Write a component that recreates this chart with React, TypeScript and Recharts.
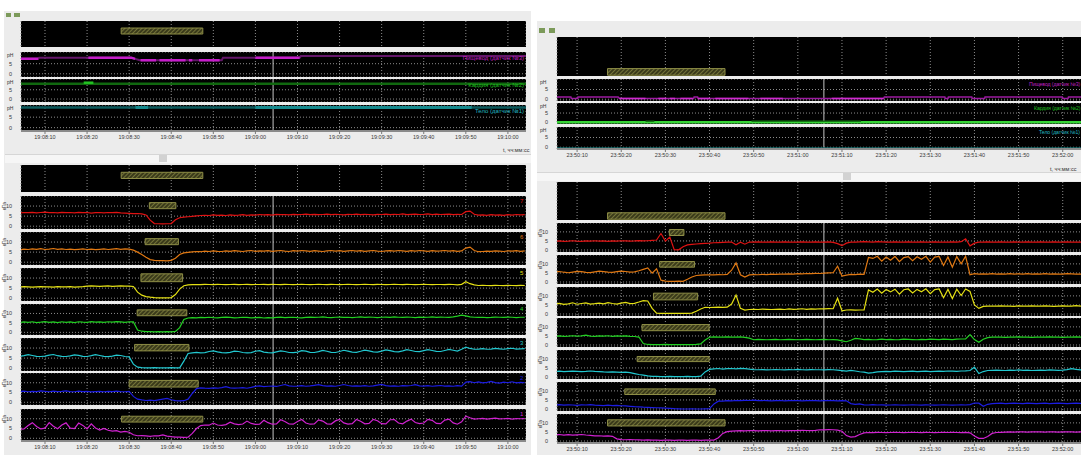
import React from 'react';
import { LineChart, Line, XAxis, YAxis, CartesianGrid, ReferenceArea, ReferenceLine } from 'recharts';

// time axis, seconds after the minute in the first label
const timeTicks = [10, 20, 30, 40, 50, 60, 70, 80, 90, 100, 110, 120];
const leftTimeLabels = ['19:08:10', '19:08:20', '19:08:30', '19:08:40', '19:08:50', '19:09:00', '19:09:10', '19:09:20', '19:09:30', '19:09:40', '19:09:50', '19:10:00'];
const rightTimeLabels = ['23:50:10', '23:50:20', '23:50:30', '23:50:40', '23:50:50', '23:51:00', '23:51:10', '23:51:20', '23:51:30', '23:51:40', '23:51:50', '23:52:00'];

const phNames = ['Пищевод (датчик №3)', 'Кардия (датчик №2)', 'Тело (датчик №1)'];
const channelNames = ['7', '6', '5', '4', '3', '2', '1'];
const channelColors = ['#e01212', '#e07812', '#e4e014', '#22d022', '#22c8d0', '#1c1ce0', '#d022d0'];

const leftCursor = 64.2;
const rightCursor = 65.9;

// left recording, one sample per second from t = 4
const leftStart = 4;
const leftP7 = [6.6, 6.8, 6.7, 6.9, 6.6, 6.8, 7.0, 6.7, 6.8, 6.6,
  6.9, 6.7, 6.8, 6.6, 6.9, 6.7, 6.8, 6.5, 6.7, 6.8,
  6.6, 6.8, 6.7, 6.9, 6.6, 6.5, 6.4, 6.2, 6.3, 6.1,
  5.6, 3.0, 1.3, 1.2, 1.1, 1.2, 1.3, 3.2, 4.2, 4.5,
  4.7, 4.9, 5.1, 5.3, 5.4, 5.3, 5.6, 5.4, 5.5, 5.3,
  5.6, 5.4, 5.5, 5.7, 5.4, 5.6, 5.5, 5.8, 5.6, 5.7,
  5.5, 5.9, 5.7, 5.8, 5.6, 5.9, 5.7, 5.8, 6.0, 5.7,
  5.9, 5.7, 5.8, 6.0, 5.7, 5.9, 5.8, 5.6, 5.9, 5.8,
  6.0, 5.7, 5.9, 5.8, 5.6, 5.9, 5.8, 6.0, 5.7, 5.9,
  5.8, 6.1, 5.7, 5.9, 6.0, 5.8, 5.9, 6.1, 5.7, 6.0,
  5.8, 5.9, 6.0, 5.7, 5.9, 5.8, 7.2, 7.5, 5.9, 5.5,
  5.6, 5.4, 5.7, 5.5, 5.6, 5.4, 5.7, 5.5, 5.8, 5.6,
  5.7];
const leftP6 = [6.2, 6.5, 6.3, 6.6, 6.4, 6.7, 6.3, 6.5, 6.8, 6.4,
  6.6, 6.3, 6.5, 6.2, 6.4, 6.6, 6.3, 6.5, 6.2, 6.4,
  6.6, 6.3, 6.5, 6.7, 6.4, 6.6, 6.5, 6.0, 5.0, 3.8,
  2.4, 1.3, 0.9, 0.8, 0.8, 0.7, 0.9, 2.0, 3.8, 4.6,
  4.9, 5.1, 5.3, 5.2, 5.5, 5.3, 5.6, 5.4, 5.3, 5.6,
  5.4, 5.7, 5.5, 5.3, 5.6, 5.8, 5.4, 5.6, 5.5, 5.7,
  5.4, 5.6, 5.8, 5.5, 5.3, 5.7, 5.5, 5.8, 5.6, 5.4,
  5.7, 5.5, 5.3, 5.6, 5.8, 5.5, 5.7, 5.4, 5.6, 5.8,
  5.5, 5.7, 5.4, 5.6, 5.8, 5.5, 5.3, 5.6, 5.7, 5.5,
  5.8, 5.6, 5.4, 5.7, 5.5, 5.8, 5.6, 5.4, 5.7, 5.5,
  5.6, 5.8, 5.5, 5.7, 5.4, 5.6, 7.0, 7.5, 5.8, 5.2,
  5.3, 5.5, 5.4, 5.6, 5.5, 5.3, 5.6, 5.5, 5.7, 5.4,
  5.6];
const leftP5 = [5.6, 5.7, 5.6, 5.5, 5.6, 5.7, 5.6, 5.6, 5.5, 5.7,
  5.6, 5.6, 5.7, 5.5, 5.6, 5.7, 6.0, 6.1, 6.0, 5.9,
  6.0, 6.1, 5.9, 6.0, 6.1, 6.0, 6.0, 5.8, 3.0, 1.5,
  0.8, 0.5, 0.3, 0.2, 0.2, 0.2, 0.3, 1.8, 4.5, 6.2,
  6.6, 6.7, 6.8, 6.7, 6.9, 6.8, 6.7, 6.9, 6.8, 6.7,
  6.8, 6.9, 6.7, 6.8, 6.9, 6.7, 6.8, 6.8, 6.9, 6.7,
  6.9, 6.8, 6.7, 6.9, 6.8, 6.7, 6.8, 6.9, 6.8, 6.7,
  6.8, 6.9, 6.8, 6.7, 6.9, 6.8, 6.7, 6.8, 6.9, 6.8,
  6.7, 6.8, 6.9, 6.8, 6.7, 6.9, 6.8, 6.7, 6.8, 6.9,
  6.8, 6.7, 6.9, 6.8, 6.7, 6.8, 6.9, 6.8, 6.7, 6.8,
  6.8, 6.7, 6.9, 6.8, 6.6, 6.9, 8.2, 7.2, 6.6, 6.3,
  6.4, 6.3, 6.2, 6.4, 6.3, 6.2, 6.4, 6.3, 6.2, 6.4,
  6.3];
const leftP4 = [5.2, 5.5, 5.3, 5.6, 5.2, 5.4, 5.7, 5.3, 5.5, 5.2,
  5.6, 5.3, 5.5, 5.2, 5.6, 5.4, 5.3, 5.7, 5.4, 5.5,
  5.3, 5.6, 5.4, 5.7, 5.5, 5.3, 5.6, 5.5, 1.2, 0.6,
  0.4, 0.4, 0.3, 0.4, 0.3, 0.4, 0.3, 0.5, 2.5, 6.8,
  7.6, 7.8, 7.7, 7.9, 7.8, 8.0, 7.8, 7.7, 7.9, 8.1,
  7.9, 7.7, 7.8, 8.0, 7.9, 7.7, 7.8, 7.9, 7.6, 7.8,
  7.7, 7.9, 8.1, 7.8, 7.9, 8.0, 7.8, 7.7, 7.9, 8.1,
  7.9, 8.0, 8.2, 7.9, 7.8, 8.0, 8.1, 7.9, 8.0, 7.8,
  8.0, 8.2, 7.9, 8.1, 8.0, 7.8, 8.0, 8.1, 7.9, 8.2,
  8.0, 7.9, 8.1, 8.0, 7.8, 8.1, 7.9, 8.0, 8.2, 7.9,
  8.1, 8.0, 7.9, 8.2, 8.6, 9.1, 8.7, 8.2, 8.0, 7.9,
  8.0, 7.8, 7.9, 8.1, 8.0, 7.9, 8.1, 8.0, 7.8, 8.0,
  8.0];
const leftP3 = [5.9, 6.2, 6.7, 6.3, 5.9, 5.8, 6.0, 6.5, 6.8, 6.2,
  5.9, 5.8, 6.1, 6.6, 6.4, 5.9, 5.8, 6.2, 6.7, 6.3,
  5.9, 5.7, 6.0, 6.5, 6.3, 5.8, 5.6, 2.0, 0.5, 0.3,
  0.2, 0.2, 0.3, 0.2, 0.2, 0.2, 0.3, 0.2, 0.2, 3.5,
  7.3, 7.6, 7.9, 7.6, 7.7, 8.3, 8.6, 8.1, 7.7, 7.6,
  7.9, 8.5, 8.3, 7.8, 7.6, 7.7, 8.4, 8.7, 8.0, 7.7,
  7.6, 8.1, 8.6, 8.3, 7.8, 7.7, 8.0, 8.7, 8.5, 7.9,
  7.8, 8.2, 8.8, 8.4, 7.9, 7.8, 8.3, 8.9, 8.5, 8.0,
  7.9, 8.4, 9.0, 8.6, 8.1, 8.0, 8.5, 9.1, 8.7, 8.2,
  8.1, 8.6, 9.2, 8.8, 8.3, 8.2, 8.7, 9.2, 8.8, 8.4,
  8.3, 8.8, 9.3, 8.9, 8.5, 9.4, 10.4, 9.8, 9.4, 9.5,
  9.7, 9.4, 9.5, 9.8, 9.6, 9.4, 9.7, 9.9, 9.5, 9.6,
  9.7];
const leftP2 = [5.5, 5.7, 5.4, 5.6, 5.5, 5.8, 5.6, 5.4, 5.7, 5.5,
  5.6, 5.8, 5.5, 5.4, 5.7, 5.5, 5.6, 5.3, 5.5, 5.6,
  5.4, 5.6, 5.5, 5.7, 5.5, 5.4, 5.6, 3.0, 1.6, 1.2,
  0.9, 1.1, 0.8, 1.2, 1.6, 2.0, 1.3, 0.8, 0.7, 0.8,
  1.6, 4.5, 7.0, 7.4, 7.2, 7.1, 7.4, 7.2, 7.5, 8.0,
  7.4, 7.2, 7.3, 7.5, 7.2, 7.6, 8.1, 8.4, 8.0, 8.2,
  8.3, 8.1, 8.6, 9.1, 8.4, 8.2, 8.3, 8.5, 8.2, 8.4,
  8.7, 9.0, 8.5, 8.3, 8.4, 8.2, 8.6, 9.1, 8.6, 8.3,
  8.4, 8.3, 8.5, 8.2, 8.4, 8.8, 9.2, 8.5, 8.3, 8.4,
  8.2, 8.5, 8.4, 8.6, 9.0, 8.4, 8.3, 8.5, 8.2, 8.4,
  8.6, 8.3, 8.4, 8.2, 8.5, 8.3, 10.3, 10.6, 10.0, 10.4,
  9.9, 10.2, 10.7, 10.1, 9.8, 10.3, 10.0, 10.5, 9.9, 10.2,
  10.0];
const leftP1 = [4.7, 4.8, 6.5, 8.0, 6.0, 4.8, 5.2, 8.0, 6.2, 4.9,
  6.8, 7.9, 5.2, 5.0, 7.8, 6.6, 4.8, 7.4, 5.3, 4.2,
  5.0, 4.1, 3.7, 3.9, 3.2, 3.5, 3.1, 1.8, 1.3, 1.4,
  1.2, 1.0, 1.3, 1.2, 1.7, 1.1, 0.8, 0.6, 0.6, 0.5,
  0.6, 2.5, 5.0, 6.5, 6.8, 6.7, 7.8, 6.8, 6.6, 7.0,
  8.2, 7.4, 7.0, 7.3, 8.8, 7.6, 7.1, 7.2, 9.2, 8.0,
  7.2, 7.4, 9.5, 8.6, 7.3, 7.2, 8.6, 9.6, 7.8, 7.2,
  7.3, 9.4, 8.8, 7.4, 7.3, 8.9, 9.7, 7.9, 7.3, 7.5,
  9.6, 8.7, 7.4, 7.6, 9.7, 9.0, 7.5, 7.4, 9.5, 9.6,
  7.8, 7.4, 8.8, 9.8, 8.1, 7.5, 7.8, 9.7, 9.2, 7.6,
  7.5, 9.3, 9.8, 7.9, 7.2, 8.4, 11.3, 10.5, 9.8, 10.0,
  10.2, 9.8, 10.1, 10.3, 9.9, 10.0, 10.2, 9.8, 10.1, 10.0,
  10.1];

// right recording, one sample per second from t = 5
const rightStart = 5;
const rightP7 = [4.9, 5.0, 4.8, 4.9, 5.1, 4.9, 4.8, 5.0, 4.9, 5.1,
  4.9, 5.0, 4.8, 5.0, 4.9, 5.1, 5.0, 4.9, 5.0, 5.2,
  5.0, 5.1, 5.3, 5.5, 9.1, 4.9, 7.1, 0.2, 0.1, 1.8,
  2.8, 3.1, 3.3, 3.5, 3.7, 3.8, 4.0, 4.1, 4.2, 4.3,
  4.4, 2.9, 4.3, 3.2, 4.4, 4.3, 4.5, 4.4, 4.3, 4.5,
  4.4, 4.3, 4.5, 4.4, 4.3, 4.4, 4.5, 4.3, 4.4, 4.5,
  4.4, 4.3, 4.5, 4.2, 3.5, 2.4, 3.8, 4.3, 4.4, 4.5,
  4.6, 4.5, 4.4, 4.6, 4.5, 4.3, 4.4, 4.5, 4.3, 4.4,
  4.5, 4.4, 4.3, 4.5, 4.4, 4.3, 4.5, 4.4, 4.3, 4.4,
  4.5, 4.3, 4.6, 6.2, 2.3, 3.8, 4.3, 4.4, 4.5, 4.3,
  4.4, 4.5, 4.3, 4.4, 4.5, 4.3, 4.4, 4.5, 4.4, 4.3,
  4.5, 4.4, 4.3, 4.5, 4.4, 4.3, 4.5, 4.4, 4.3, 4.4,
  4.5, 4.4];
const rightP6 = [5.6, 5.8, 5.4, 5.1, 5.5, 5.9, 5.7, 5.3, 5.2, 5.6,
  6.0, 5.7, 5.4, 5.3, 5.7, 6.0, 5.8, 5.5, 5.6, 6.2,
  7.0, 7.8, 4.9, 7.3, 1.0, 0.5, 0.4, 0.4, 0.5, 0.4,
  1.5, 2.8, 3.6, 3.8, 3.9, 4.0, 3.9, 4.1, 4.0, 4.2,
  6.5, 10.5, 4.0, 2.7, 3.9, 4.1, 4.0, 4.2, 4.1, 4.3,
  4.2, 4.4, 4.3, 4.5, 4.4, 4.6, 4.5, 4.7, 4.6, 4.8,
  4.7, 4.9, 5.0, 5.1, 8.7, 3.3, 3.8, 4.2, 4.1, 4.3,
  4.2, 13.6, 13.0, 14.2, 11.5, 13.8, 12.0, 14.1, 11.2, 13.5,
  14.0, 11.8, 13.9, 12.5, 14.2, 11.0, 13.7, 14.1, 9.1, 13.8,
  8.2, 14.0, 10.0, 14.2, 4.0, 4.6, 4.4, 4.5, 4.3, 4.6,
  4.4, 4.5, 4.3, 4.6, 4.4, 4.5, 4.3, 4.6, 4.4, 4.5,
  4.3, 4.6, 4.4, 4.5, 4.3, 4.4, 4.6, 4.5, 4.4, 4.3,
  4.5, 4.4];
const rightP5 = [5.5, 5.9, 5.3, 5.6, 6.2, 5.4, 5.8, 6.1, 5.5, 5.7,
  6.0, 5.6, 6.3, 5.8, 5.5, 6.0, 6.4, 5.7, 5.9, 6.6,
  7.4, 7.2, 3.1, 0.5, 0.4, 0.3, 0.4, 0.3, 0.4, 0.3,
  0.4, 0.5, 1.5, 2.8, 3.7, 3.6, 3.7, 3.8, 3.7, 3.8,
  5.5, 10.5, 3.1, 2.2, 2.5, 2.6, 2.5, 2.7, 2.6, 2.5,
  2.6, 2.7, 2.5, 2.8, 2.6, 2.7, 2.9, 2.6, 2.8, 2.7,
  2.9, 2.8, 3.0, 2.9, 8.7, 1.8, 2.2, 2.3, 2.1, 2.2,
  2.3, 13.3, 12.0, 13.8, 11.5, 13.5, 12.2, 13.7, 11.0, 13.4,
  13.8, 11.6, 13.6, 12.3, 13.9, 11.2, 13.5, 13.8, 9.0, 13.6,
  8.5, 13.7, 10.2, 13.8, 12.5, 5.0, 3.1, 4.2, 4.4, 4.3,
  4.4, 4.5, 4.3, 4.4, 4.2, 4.5, 4.4, 4.3, 4.5, 4.4,
  4.3, 4.5, 4.4, 4.2, 4.4, 4.5, 4.3, 4.4, 4.6, 4.4,
  4.5, 4.4];
const rightP4 = [4.9, 5.0, 4.8, 4.9, 5.1, 4.9, 5.0, 5.4, 4.9, 4.8,
  5.0, 4.9, 5.1, 4.8, 5.0, 4.9, 5.0, 4.8, 4.7, 4.4,
  0.8, 0.3, 0.2, 0.2, 0.2, 0.3, 0.2, 0.2, 0.2, 0.2,
  0.2, 0.2, 0.3, 0.6, 2.8, 4.3, 4.5, 4.4, 4.3, 4.5,
  4.4, 4.3, 4.5, 4.2, 3.8, 2.9, 3.1, 3.0, 2.9, 3.0,
  3.1, 2.9, 3.0, 3.1, 3.0, 2.9, 3.0, 3.1, 3.0, 2.9,
  3.0, 3.1, 2.9, 3.0, 2.8, 2.3, 1.8, 2.6, 3.6, 3.4,
  3.0, 3.1, 2.9, 3.0, 3.2, 3.0, 3.1, 2.9, 3.0, 3.2,
  3.1, 3.0, 2.9, 3.1, 3.0, 3.2, 3.1, 3.0, 3.2, 3.1,
  3.0, 3.2, 3.3, 3.4, 5.7, 3.0, 1.5, 3.2, 4.1, 4.3,
  4.4, 4.3, 4.2, 4.4, 4.3, 4.5, 4.3, 4.4, 4.2, 4.3,
  4.4, 4.3, 4.5, 4.3, 4.4, 4.2, 4.4, 4.3, 4.5, 4.4,
  4.3, 4.4];
const rightP3 = [3.1, 3.2, 3.0, 3.1, 3.2, 3.1, 3.0, 3.1, 3.3, 3.1,
  3.0, 2.8, 2.7, 2.8, 2.7, 2.6, 2.7, 2.4, 1.9, 1.4,
  1.0, 0.6, 0.4, 0.3, 0.2, 0.2, 0.3, 0.2, 0.2, 0.2,
  0.3, 0.2, 0.2, 0.5, 2.8, 4.2, 4.5, 4.7, 4.4, 4.6,
  4.7, 4.5, 4.8, 4.6, 4.3, 4.1, 4.0, 4.1, 3.9, 4.0,
  4.1, 4.0, 3.9, 4.1, 4.0, 4.2, 4.0, 3.9, 4.1, 4.0,
  4.0, 3.9, 4.1, 4.0, 3.8, 3.5, 3.2, 3.6, 3.3, 2.9,
  2.7, 2.1, 2.4, 2.8, 3.0, 3.1, 3.0, 3.2, 3.1, 3.0,
  3.1, 3.2, 3.0, 3.1, 3.2, 3.0, 3.1, 3.2, 3.1, 3.3,
  3.2, 3.1, 3.3, 3.4, 3.6, 5.4, 1.9, 3.0, 3.6, 3.7,
  3.8, 3.7, 3.6, 3.8, 3.7, 3.9, 3.7, 3.8, 3.6, 3.7,
  3.8, 3.7, 3.9, 3.8, 3.7, 3.8, 4.1, 4.6, 4.2, 3.9,
  3.8, 3.7];
const rightP2 = [2.2, 2.4, 2.1, 2.3, 2.2, 2.0, 2.3, 2.2, 2.4, 2.1,
  2.0, 1.9, 2.1, 1.9, 2.0, 1.8, 1.7, 1.5, 1.3, 1.2,
  1.0, 0.9, 0.8, 0.7, 0.6, 0.5, 0.4, 0.2, 0.1, 0.0,
  0.0, 0.1, 0.0, 0.0, 0.1, 0.2, 2.8, 4.3, 4.4, 4.6,
  4.5, 4.7, 4.6, 4.8, 4.7, 4.9, 4.6, 4.7, 4.6, 4.5,
  4.6, 4.7, 4.5, 4.6, 4.7, 4.6, 4.5, 4.6, 4.7, 4.6,
  4.5, 4.6, 4.7, 4.6, 4.5, 4.6, 4.5, 3.0, 2.6, 2.8,
  2.3, 2.2, 2.4, 2.2, 2.3, 2.1, 2.2, 2.3, 2.2, 2.1,
  2.2, 2.3, 2.2, 2.1, 2.3, 2.2, 2.1, 2.2, 2.3, 2.2,
  2.1, 2.2, 2.3, 2.2, 2.4, 3.3, 3.2, 1.5, 2.6, 3.0,
  3.1, 3.2, 3.0, 3.1, 3.2, 3.1, 3.0, 3.2, 3.1, 3.0,
  3.1, 3.2, 3.0, 3.1, 3.2, 3.1, 3.0, 3.1, 3.2, 3.1,
  3.0, 3.1];
const rightP1 = [3.4, 3.6, 3.3, 3.5, 3.2, 3.4, 3.6, 3.3, 3.1, 2.8,
  2.9, 2.7, 2.8, 2.6, 1.2, 0.8, 0.7, 0.8, 0.7, 0.6,
  0.5, 0.6, 0.5, 0.5, 0.4, 0.5, 0.5, 0.4, 0.5, 0.5,
  0.4, 0.5, 0.5, 0.4, 0.5, 0.5, 0.5, 1.8, 4.2, 5.2,
  5.5, 5.6, 5.7, 5.6, 5.8, 5.7, 5.6, 5.7, 5.8, 5.6,
  5.7, 5.8, 5.6, 5.7, 5.8, 5.7, 5.9, 5.8, 5.7, 5.9,
  6.2, 6.1, 6.3, 6.2, 6.0, 5.4, 3.0, 2.2, 2.4, 3.6,
  4.5, 4.7, 4.6, 4.8, 4.7, 4.6, 4.7, 4.8, 4.7, 4.6,
  4.7, 4.8, 4.7, 4.6, 4.8, 4.7, 4.6, 4.7, 4.8, 4.7,
  4.8, 4.7, 4.6, 4.8, 4.5, 2.8, 1.5, 1.4, 2.5, 4.2,
  4.7, 4.8, 4.9, 5.0, 4.9, 5.1, 5.0, 4.9, 5.0, 5.1,
  5.0, 4.9, 5.1, 5.0, 4.9, 5.0, 5.1, 5.0, 4.9, 5.0,
  5.1, 5.0];

// pH traces as polyline vertices (time, pH); null breaks a trace
const leftEsoT = [4.3, 8.4, 8.6, 30.5, 32.5, 52.0, 52.3, 70.5, 70.8, 124.3];
const leftEsoV = [7.5, 7.5, 8.0, 8.0, 6.7, 6.7, 8.0, 8.0, 8.8, 8.8];
const leftEsoHiT = [4.3, 8.4, 8.5, 20.3, 30.5, 31.4, 31.5, 32.7, 36.4, 36.5, 37.2, 43.4, 43.5, 44.2, 45.0, 45.1, 46.6, 51.5, 51.6, 60.0, 70.5];
const leftEsoHiV = [7.5, 7.5, null, 8.0, 8.0, 7.4, null, 6.7, 6.7, null, 6.7, 6.7, null, 6.7, 6.7, null, 6.7, 6.7, null, 8.0, 8.0];
const leftCarT = [4.3, 124.3];
const leftCarV = [8.3, 8.3];
const leftCarHiT = [19.2, 21.5];
const leftCarHiV = [8.8, 8.8];
const leftBodT = [4.3, 124.3];
const leftBodV = [9.6, 9.6];
const leftBodHiT = [31.5, 34.5, 34.6, 60.0, 111.4];
const leftBodHiV = [9.6, 9.6, null, 9.6, 9.6];

const rightEsoT = [5.45, 8.6, 8.7, 10.1, 10.2, 19.3, 19.6, 36.4, 36.5, 37.3, 37.4, 79.4, 79.6, 93.3, 93.4, 94.0, 94.1, 99.4, 99.5, 102.3, 102.4, 119.9, 120.0, 121.2, 121.3, 126.0];
const rightEsoV = [1.1, 1.1, 0.35, 0.35, 1.1, 1.1, 0.35, 0.35, 1.1, 1.1, 0.35, 0.35, 1.1, 1.1, 0.35, 0.35, 1.1, 1.1, 0.35, 0.35, 1.1, 1.1, 0.35, 0.35, 1.1, 1.1];
const rightEsoHiT = [19.6, 25.5, 25.6, 28.4, 30.2, 30.3, 31.0, 32.2, 32.3, 33.4, 36.2, 36.3, 37.4, 40.1, 40.2, 41.3, 48.8, 48.9, 51.5, 56.6, 56.7, 67.7, 79.4];
const rightEsoHiV = [0.35, 0.35, null, 0.35, 0.35, null, 0.35, 0.35, null, 0.35, 0.35, null, 0.35, 0.35, null, 0.35, 0.35, null, 0.35, 0.35, null, 0.35, 0.35];
const rightCarT = [5.45, 126.0];
const rightCarV = [0.0, 0.0];
const rightCarDkT = [25.5, 27.5, 27.6, 49.5, 74.3];
const rightCarDkV = [0.55, 0.55, null, 0.55, 0.55];
const rightBodT = [5.45, 126.0];
const rightBodV = [-0.4, -0.4];

// event marks: [start s, end s, low, high]
const leftEventBox = [28.1, 47.5, 0.5, 0.73];
const rightEventBox = [16.9, 43.5, 0.02, 0.19];
const leftChannelBoxes = [
  [34.8, 41.1, 8.7, 11.7], [33.8, 41.7, 8.7, 11.7], [32.8, 42.7, 8.2, 12.1], [31.9, 43.7, 8.8, 11.9],
  [31.3, 44.2, 8.6, 11.8], [30.0, 46.4, 7.8, 11.2], [28.2, 47.5, 8.3, 11.3],
];
const rightChannelBoxes = [
  [30.9, 34.2, 8.0, 11.3], [28.7, 36.6, 8.2, 11.3], [27.3, 37.3, 7.8, 11.5], [24.7, 39.9, 7.9, 11.3],
  [23.6, 39.9, 8.5, 11.3], [20.8, 41.3, 8.0, 11.1], [16.9, 43.5, 8.3, 11.7],
];

type Row = { t: number; v: number | null };
type Trace = { rows: Row[]; color: string; width: number };

const sampled = (start: number, vals: number[]): Row[] => vals.map((v, i) => ({ t: start + i, v }));
const vertices = (ts: number[], vs: (number | null)[]): Row[] => ts.map((t, i) => ({ t, v: vs[i] }));

const leftChannels = [leftP7, leftP6, leftP5, leftP4, leftP3, leftP2, leftP1];
const rightChannels = [rightP7, rightP6, rightP5, rightP4, rightP3, rightP2, rightP1];

const leftPh: Trace[][] = [
  [{ rows: vertices(leftEsoT, leftEsoV), color: '#64166a', width: 2 }, { rows: vertices(leftEsoHiT, leftEsoHiV), color: '#c41ec8', width: 2.5 }],
  [{ rows: vertices(leftCarT, leftCarV), color: '#10680f', width: 2.5 }, { rows: vertices(leftCarHiT, leftCarHiV), color: '#22c222', width: 2.5 }],
  [{ rows: vertices(leftBodT, leftBodV), color: '#0c5a5c', width: 2.5 }, { rows: vertices(leftBodHiT, leftBodHiV), color: '#168a8e', width: 3 }],
];
const rightPh: Trace[][] = [
  [{ rows: vertices(rightEsoT, rightEsoV), color: '#9c1aa0', width: 1.5 }, { rows: vertices(rightEsoHiT, rightEsoHiV), color: '#d02ad0', width: 1.5 }],
  [{ rows: vertices(rightCarT, rightCarV), color: '#36d436', width: 2.5 }, { rows: vertices(rightCarDkT, rightCarDkV), color: '#147214', width: 1.5 }],
  [{ rows: vertices(rightBodT, rightBodV), color: '#0e6464', width: 1.5 }],
];

const phNameColors = ['#c020c0', '#20c020', '#20b8c0'];

type StripProps = {
  left: number; top: number; plotW: number; plotH: number; axisW: number;
  xDomain: [number, number]; yDomain: [number, number]; yTicks: number[];
  traces: Trace[]; boxes?: number[][]; cursor?: number; labels?: string[]; axisH?: number;
};

function Strip({ left, top, plotW, plotH, axisW, xDomain, yDomain, yTicks, traces, boxes = [], cursor, labels, axisH = 0 }: StripProps) {
  return (
    <div style={{ position: 'absolute', left, top }}>
      <LineChart width={axisW + plotW} height={plotH + axisH} margin={{ top: 0, right: 0, bottom: 0, left: 0 }}>
        <CartesianGrid fill="#000" stroke="#8c8c8c" strokeDasharray="1 2" horizontal={yTicks.length > 0} />
        <XAxis
          type="number" dataKey="t" domain={xDomain} ticks={timeTicks} allowDataOverflow interval={0}
          hide={!labels} height={axisH}
          tick={{ fontSize: 5.5, fill: '#3a3a3a' }} tickSize={3} tickMargin={1}
          tickLine={{ stroke: '#777' }} axisLine={{ stroke: '#8a8a8a', strokeWidth: 2 }}
          tickFormatter={(v: number) => (labels ? labels[timeTicks.indexOf(v)] ?? '' : '')}
        />
        <YAxis
          type="number" domain={yDomain} ticks={yTicks.length ? yTicks : undefined} allowDataOverflow interval={0}
          width={axisW} tick={yTicks.length ? { fontSize: 5.5, fill: '#3a3a3a' } : false}
          tickLine={false} axisLine={false} tickMargin={3}
        />
        {boxes.map((b, i) => (
          <ReferenceArea key={i} x1={b[0]} x2={b[1]} y1={b[2]} y2={b[3]} fill="url(#hatch)" fillOpacity={1} stroke="#8e8e46" strokeWidth={1} />
        ))}
        {cursor !== undefined && <ReferenceLine x={cursor} stroke="#c4c4c4" strokeWidth={1} />}
        {traces.map((tr, i) => (
          <Line key={i} data={tr.rows} dataKey="v" type="linear" stroke={tr.color} strokeWidth={tr.width} dot={false} activeDot={false} isAnimationActive={false} connectNulls={false} />
        ))}
      </LineChart>
    </div>
  );
}

const txt = (left: number, top: number, text: string, color: string, size = 5.5, extra: React.CSSProperties = {}) => (
  <div style={{ position: 'absolute', left, top, color, fontSize: size, lineHeight: 1, whiteSpace: 'nowrap', ...extra }}>{text}</div>
);

export default function App() {
  const L = { x: 0, axisW: 21, plotW: 505, dom: [4.3, 124.3] as [number, number] };
  const R = { x: 537, axisW: 20, plotW: 532, dom: [5.45, 125.95] as [number, number] };
  const leftPhTops = [52, 79, 105];
  const leftPhH = [25, 23, 26];
  const rightPhTops = [79, 103, 127];
  const rightPhH = [22, 21, 22];
  const leftChTops = [196, 232, 268, 304, 338, 373, 409];
  const leftChH = [33, 33, 33, 31, 33, 32, 32];
  const rightChTops = [223, 255, 287, 318, 350, 382, 414];

  return (
    <div style={{ position: 'fixed', left: 0, top: 0, width: 1081, height: 455, overflow: 'hidden', background: '#fff', fontFamily: "'Liberation Sans', Arial, sans-serif" }}>
      <svg width={0} height={0} style={{ position: 'absolute' }}>
        <defs>
          <pattern id="hatch" width={3} height={3} patternUnits="userSpaceOnUse" patternTransform="rotate(45)">
            <rect width={3} height={3} fill="#3a3a1a" />
            <line x1={0} y1={0} x2={0} y2={3} stroke="#8c8c46" strokeWidth={1.4} />
          </pattern>
        </defs>
      </svg>

      {/* window backgrounds */}
      <div style={{ position: 'absolute', left: 4, top: 11, width: 527, height: 444, background: '#ececec' }} />
      <div style={{ position: 'absolute', left: 537, top: 21, width: 544, height: 434, background: '#ececec' }} />
      {/* toolbar icons */}
      <div style={{ position: 'absolute', left: 6, top: 13, width: 5, height: 4, background: '#7c9a5a' }} />
      <div style={{ position: 'absolute', left: 14, top: 13, width: 6, height: 4, background: '#7c9a5a' }} />
      <div style={{ position: 'absolute', left: 539, top: 28, width: 6, height: 5, background: '#7c9a5a' }} />
      <div style={{ position: 'absolute', left: 549, top: 28, width: 6, height: 5, background: '#7c9a5a' }} />
      {/* scroll bands */}
      <div style={{ position: 'absolute', left: 5, top: 154, width: 526, height: 8, background: '#f6f6f6', borderTop: '1px solid #d6d6d6' }} />
      <div style={{ position: 'absolute', left: 159, top: 155, width: 8, height: 7, background: '#d2d2d2' }} />
      <div style={{ position: 'absolute', left: 537, top: 172, width: 544, height: 8, background: '#f6f6f6', borderTop: '1px solid #d6d6d6' }} />
      <div style={{ position: 'absolute', left: 843, top: 173, width: 8, height: 7, background: '#d2d2d2' }} />

      {/* left recording */}
      <Strip left={L.x} top={21} plotW={L.plotW} plotH={26} axisW={L.axisW} xDomain={L.dom} yDomain={[0, 1]} yTicks={[]} traces={[]} boxes={[leftEventBox]} />
      {leftPh.map((tr, i) => (
        <Strip key={'lph' + i} left={L.x} top={leftPhTops[i]} plotW={L.plotW} plotH={leftPhH[i]} axisW={L.axisW} xDomain={L.dom} yDomain={[-1.6, 10.8]} yTicks={[0, 5]} traces={tr} cursor={leftCursor} labels={i === 2 ? leftTimeLabels : undefined} axisH={i === 2 ? 16 : 0} />
      ))}
      <Strip left={L.x} top={165} plotW={L.plotW} plotH={27} axisW={L.axisW} xDomain={L.dom} yDomain={[0, 1]} yTicks={[]} traces={[]} boxes={[leftEventBox]} />
      {leftChannels.map((vals, i) => (
        <Strip key={'lch' + i} left={L.x} top={leftChTops[i]} plotW={L.plotW} plotH={leftChH[i]} axisW={L.axisW} xDomain={L.dom} yDomain={[-1.4, 15]} yTicks={[0, 5, 10]}
          traces={[{ rows: sampled(leftStart, vals), color: channelColors[i], width: 1.2 }]} boxes={[leftChannelBoxes[i]]} cursor={leftCursor}
          labels={i === 6 ? leftTimeLabels : undefined} axisH={i === 6 ? 13 : 0} />
      ))}

      {/* right recording */}
      <Strip left={R.x} top={37} plotW={R.plotW} plotH={39} axisW={R.axisW} xDomain={R.dom} yDomain={[0, 1]} yTicks={[]} traces={[]} boxes={[rightEventBox]} />
      {rightPh.map((tr, i) => (
        <Strip key={'rph' + i} left={R.x} top={rightPhTops[i]} plotW={R.plotW} plotH={rightPhH[i]} axisW={R.axisW} xDomain={R.dom} yDomain={[-0.9, 10.4]} yTicks={[0, 5]} traces={tr} cursor={rightCursor} labels={i === 2 ? rightTimeLabels : undefined} axisH={i === 2 ? 16 : 0} />
      ))}
      <Strip left={R.x} top={182} plotW={R.plotW} plotH={38} axisW={R.axisW} xDomain={R.dom} yDomain={[0, 1]} yTicks={[]} traces={[]} boxes={[rightEventBox]} />
      {rightChannels.map((vals, i) => (
        <Strip key={'rch' + i} left={R.x} top={rightChTops[i]} plotW={R.plotW} plotH={29} axisW={R.axisW} xDomain={R.dom} yDomain={[-1.1, 14.9]} yTicks={[0, 5, 10]}
          traces={[{ rows: sampled(rightStart, vals), color: channelColors[i], width: 1.2 }]} boxes={[rightChannelBoxes[i]]} cursor={rightCursor}
          labels={i === 6 ? rightTimeLabels : undefined} axisH={i === 6 ? 12 : 0} />
      ))}

      {/* panel texts */}
      {leftPhTops.map((t) => txt(7, t + 1, 'pH', '#333', 5))}
      {rightPhTops.map((t) => txt(540, t + 1, 'pH', '#333', 5))}
      {leftPhTops.map((t, i) => txt(0, t + 3, phNames[i], phNameColors[i], 6, { width: 524, textAlign: 'right' }))}
      {rightPhTops.map((t, i) => txt(1029 + i * 5, t + 3, phNames[i], phNameColors[i], 5.2, { letterSpacing: -0.1 }))}
      {leftChTops.map((t, i) => txt(520, t + 2, channelNames[i], channelColors[i], 6))}
      {leftChTops.map((t) => txt(3, t + 4, 'кПа', '#333', 4.5, { transform: 'rotate(-90deg)', transformOrigin: 'left top', top: t + 14 }))}
      {rightChTops.map((t) => txt(539, t + 4, 'кПа', '#333', 4.5, { transform: 'rotate(-90deg)', transformOrigin: 'left top', top: t + 14 }))}
      {txt(503, 148, 't, чч:мм:сс', '#333', 5.5)}
      {txt(1050, 167, 't, чч:мм:сс', '#333', 5.5)}
    </div>
  );
}
